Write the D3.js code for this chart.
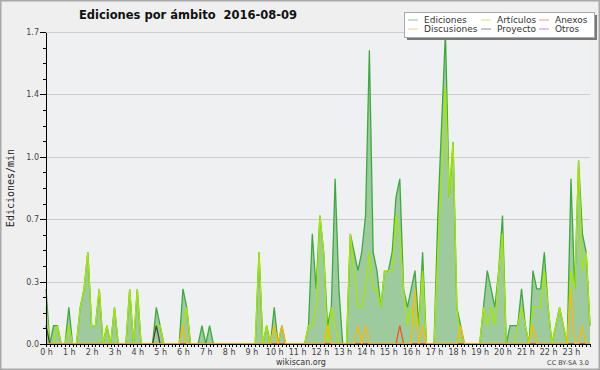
<!DOCTYPE html>
<html>
<head>
<meta charset="utf-8">
<script src="https://cdn.jsdelivr.net/npm/d3@7"></script>
<style>
  body { margin: 0; background: #f0f0f0; }
  svg { display: block; }
  .axis path, .axis line { stroke: #000; shape-rendering: crispEdges; }
  .axis text { fill: #444; font-family: "DejaVu Sans", sans-serif; font-size: 8px; }
  .grid line { stroke: #cccccc; shape-rendering: crispEdges; }
  .grid path { display: none; }
  .title { white-space: pre; }
</style>
</head>
<body>
<script>
// edits per minute, one value per 10 minutes (144 points)
var ediciones = [
  0.3, 0, 0.1, 0.1, 0, 0, 0.2, 0, 0, 0.2,
  0.3, 0.5, 0.1, 0.1, 0.3, 0, 0.1, 0, 0.2, 0,
  0, 0, 0.3, 0, 0.3, 0, 0, 0, 0, 0.2,
  0.1, 0, 0, 0, 0, 0, 0.3, 0.2, 0, 0,
  0, 0.1, 0, 0.1, 0, 0, 0, 0, 0, 0,
  0, 0, 0, 0, 0, 0, 0.5, 0, 0.1, 0,
  0.2, 0, 0.1, 0, 0, 0, 0, 0, 0, 0.1,
  0.6, 0.3, 0.7, 0.5, 0.1, 0.2, 0.9, 0.3, 0, 0,
  0.6, 0.5, 0.4, 0.5, 0.7, 1.6, 0.5, 0.4, 0.2, 0.4,
  0.4, 0.5, 0.8, 0.9, 0.3, 0.2, 0.3, 0.4, 0.1, 0.5,
  0, 0, 0, 0.7, 1.2, 1.7, 0.8, 1.1, 0.2, 0.1,
  0, 0, 0, 0, 0, 0.2, 0.4, 0.3, 0.2, 0.4,
  0.7, 0, 0.1, 0.1, 0.1, 0.3, 0.1, 0, 0.4, 0.3,
  0.3, 0.5, 0.2, 0, 0.1, 0.2, 0.1, 0, 0.9, 0.3,
  1.0, 0.6, 0.5, 0.1
];
var articulos = [
  0.2, 0, 0, 0.1, 0, 0, 0.1, 0, 0, 0.2,
  0.3, 0.5, 0.1, 0.1, 0.3, 0, 0.1, 0, 0.2, 0,
  0, 0, 0.3, 0, 0.3, 0, 0, 0, 0, 0.1,
  0.1, 0, 0, 0, 0, 0, 0.1, 0.2, 0, 0,
  0, 0, 0, 0, 0, 0, 0, 0, 0, 0,
  0, 0, 0, 0, 0, 0, 0.5, 0, 0.1, 0,
  0.1, 0, 0, 0, 0, 0, 0, 0, 0, 0.1,
  0.1, 0.2, 0.7, 0.5, 0, 0.2, 0.1, 0, 0, 0,
  0.6, 0.4, 0.2, 0.2, 0.3, 0.5, 0.3, 0.3, 0.2, 0.4,
  0.4, 0.4, 0.7, 0.6, 0.3, 0.1, 0.2, 0.1, 0.1, 0.4,
  0, 0, 0, 0.5, 0.9, 1.4, 0.8, 1.1, 0.2, 0,
  0, 0, 0, 0, 0, 0.2, 0.1, 0.2, 0.1, 0.4,
  0.6, 0, 0, 0, 0.1, 0.2, 0.1, 0, 0.2, 0.2,
  0.2, 0.4, 0.2, 0, 0.1, 0.2, 0.1, 0, 0.4, 0.3,
  1.0, 0.4, 0.5, 0.1
];
// sparse series: [index, value]
var discusiones = [[36, 0.1], [60, 0.1], [62, 0.1], [74, 0.1], [82, 0.1], [84, 0.1], [97, 0.3], [99, 0.1], [109, 0.1], [128, 0.1], [138, 0.3], [141, 0.1]];
var anexos = [[93, 0.1]];
var proyecto = [[0, 0.1], [29, 0.1]];
var otros = [];

var hourLabels = ["0 h", "1 h", "2 h", "3 h", "4 h", "5 h", "6 h", "7 h", "8 h", "9 h", "10 h", "11 h",
  "12 h", "13 h", "14 h", "15 h", "16 h", "17 h", "18 h", "19 h", "20 h", "21 h", "22 h", "23 h"];
var yTicks = [0, 0.34, 0.68, 1.02, 1.36, 1.7];
var yMax = 1.7;

var legendItems = [
  { name: "Ediciones", color: "#3cab3c" },
  { name: "Artículos", color: "#a6e800" },
  { name: "Anexos", color: "#ee5a22" },
  { name: "Discusiones", color: "#f2bc10" },
  { name: "Proyecto", color: "#444444" },
  { name: "Otros", color: "#9933ee" }
];

function expand(sparse) {
  var arr = ediciones.map(function() { return 0; });
  sparse.forEach(function(p) { arr[p[0]] = p[1]; });
  return arr;
}

var W = 600, H = 370;
var MARGIN = { top: 32, right: 10, bottom: 26, left: 46 };
var pw = W - MARGIN.left - MARGIN.right, ph = H - MARGIN.top - MARGIN.bottom;

var svg = d3.select("body").append("svg").attr("width", W).attr("height", H);

svg.append("rect").attr("x", 0.75).attr("y", 0.75).attr("width", W - 1.5).attr("height", H - 1.5)
  .attr("fill", "#efefef").attr("stroke", "#a9a9a9").attr("stroke-width", 1.5);

var g = svg.append("g").attr("transform", "translate(" + MARGIN.left + "," + MARGIN.top + ")");

var x = d3.scaleLinear().domain([0, ediciones.length - 1]).range([0, pw]);
var y = d3.scaleLinear().domain([0, yMax]).range([ph, 0]);

g.append("rect").attr("width", pw).attr("height", ph).attr("fill", "#eef0f2");

g.append("g").attr("class", "grid")
  .call(d3.axisLeft(y).tickValues(yTicks.slice(1)).tickSize(-pw).tickFormat(""));

var area = d3.area().x(function(d, i) { return x(i); }).y0(y(0)).y1(function(d) { return y(d); });
var line = d3.line().x(function(d, i) { return x(i); }).y(function(d) { return y(d); });

g.append("path").datum(ediciones).attr("d", area).attr("fill", "#9ecb9e");

var series = [
  { data: ediciones, color: legendItems[0].color },
  { data: articulos, color: legendItems[1].color },
  { data: expand(otros), color: legendItems[5].color },
  { data: expand(proyecto), color: legendItems[4].color },
  { data: expand(anexos), color: legendItems[2].color },
  { data: expand(discusiones), color: legendItems[3].color }
];
series.forEach(function(s) {
  g.append("path").datum(s.data).attr("d", line)
    .attr("fill", "none").attr("stroke", s.color).attr("stroke-width", 1.3)
    .attr("stroke-linejoin", "miter");
});

// y axis: major + minor ticks
g.append("g").attr("class", "axis")
  .call(d3.axisLeft(y).tickValues(d3.range(0, 21).map(function(k) { return k * yMax / 20; }))
    .tickSize(3).tickSizeOuter(0).tickFormat(""));
g.append("g").attr("class", "axis")
  .call(d3.axisLeft(y).tickValues(yTicks).tickSize(6).tickSizeOuter(0).tickPadding(1).tickFormat(d3.format(".1f")));

// x axis: a tick every 10 min, labels every hour
g.append("g").attr("class", "axis").attr("transform", "translate(0," + ph + ")")
  .call(d3.axisBottom(x).tickValues(d3.range(0, ediciones.length)).tickSize(3).tickSizeOuter(0).tickFormat(""));
g.append("g").attr("class", "axis xlab").attr("transform", "translate(0," + ph + ")")
  .call(d3.axisBottom(x).tickValues(hourLabels.map(function(d, i) { return i * 6; }))
    .tickSize(0).tickPadding(5).tickFormat(function(d, i) { return hourLabels[i]; }))
  .select(".domain").remove();

svg.append("text").attr("class", "title").attr("x", 188).attr("y", 19).attr("text-anchor", "middle")
  .attr("font-family", "DejaVu Sans, sans-serif").attr("font-weight", "bold").attr("font-size", 11.5)
  .attr("fill", "#111").text("Ediciones por ámbito  2016-08-09");

svg.append("text").attr("transform", "translate(14,188) rotate(-90)").attr("text-anchor", "middle")
  .attr("font-family", "DejaVu Sans Mono, monospace").attr("font-size", 10).attr("fill", "#222")
  .text("Ediciones/min");

svg.append("text").attr("x", 301).attr("y", 365).attr("text-anchor", "middle")
  .attr("font-family", "DejaVu Sans, sans-serif").attr("font-size", 8).attr("fill", "#333").text("wikiscan.org");
svg.append("text").attr("x", 589).attr("y", 365).attr("text-anchor", "end")
  .attr("font-family", "DejaVu Sans, sans-serif").attr("font-size", 6.5).attr("fill", "#444").text("CC BY-SA 3.0");

// legend
var lg = svg.append("g").attr("transform", "translate(404,12)");
lg.append("rect").attr("x", 3).attr("y", 3).attr("width", 190).attr("height", 25).attr("fill", "#777");
lg.append("rect").attr("x", 0.5).attr("y", 0.5).attr("width", 190).attr("height", 25)
  .attr("fill", "#fff").attr("stroke", "#aaa");
var colX = [4, 77, 135];
legendItems.forEach(function(d, i) {
  var cx = colX[i % 3], cy = i < 3 ? 8 : 17;
  lg.append("line").attr("x1", cx).attr("x2", cx + 10).attr("y1", cy).attr("y2", cy)
    .attr("stroke", d.color).attr("stroke-opacity", 0.6);
  lg.append("text").attr("x", cx + 16).attr("y", cy + 3.2)
    .attr("font-family", "DejaVu Sans, sans-serif").attr("font-size", 9).attr("fill", "#333").text(d.name);
});
</script>
</body>
</html>
